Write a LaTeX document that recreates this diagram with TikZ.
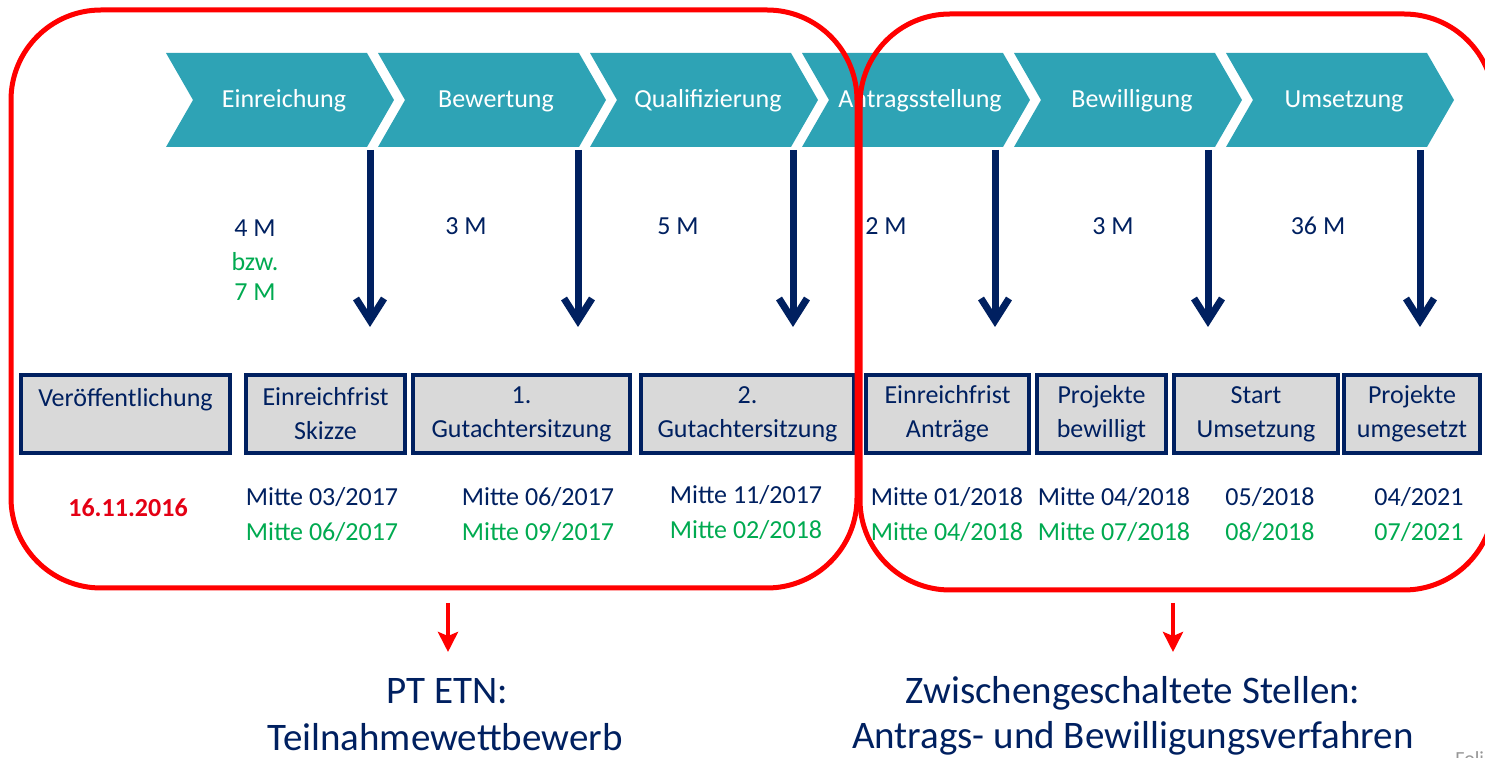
\documentclass[tikz,border=0pt]{standalone}
\usepackage{fontspec}
\setmainfont{Carlito}
\usetikzlibrary{arrows.meta}
\definecolor{tealc}{RGB}{46,163,181}
\definecolor{navy}{RGB}{0,32,96}
\definecolor{grn}{RGB}{0,170,80}
\definecolor{redr}{RGB}{255,0,0}
\definecolor{datered}{RGB}{228,0,20}
\definecolor{boxgray}{RGB}{217,217,217}
\definecolor{folgray}{RGB}{150,150,150}
\begin{document}
\begin{tikzpicture}[x=0.5pt,y=-0.5pt,
  chevtext/.style={text=white, font=\fontsize{13}{15}\selectfont, anchor=base, inner sep=0pt},
  stagebox/.style={draw=navy, line width=2pt, fill=boxgray, text=navy, align=center,
    font=\fontsize{13}{17}\selectfont, minimum height=39pt, inner sep=0pt},
  durtext/.style={text=navy, font=\fontsize{13}{15}\selectfont, anchor=base, inner sep=0pt},
  durgreen/.style={durtext, text=grn},
  datetext/.style={text=navy, font=\fontsize{13}{15}\selectfont, anchor=base, inner sep=0pt},
  dategreen/.style={datetext, text=grn},
  navyarrow/.style={draw=navy, line width=3.5pt, -{Straight Barb[length=11pt,width=14pt]}},
  redframe/.style={draw=redr, line width=2.5pt, rounded corners=45pt},
  redarrow/.style={draw=redr, line width=2.2pt, -{Stealth[length=10pt,width=10pt,inset=2pt]}},
  bottomtext/.style={text=navy, font=\fontsize{19.5}{25}\selectfont, anchor=base, inner sep=0pt}
]
\useasboundingbox (0,0) rectangle (1485,758);

% chevrons
\foreach \i/\t in {0/Einreichung,1/Bewertung,2/Qualifizierung,3/Antragsstellung,4/Bewilligung,5/Umsetzung}{
  \pgfmathsetmacro\xl{166+212*\i}
  \fill[tealc] (\xl,53) -- ++(201,0) -- ++(27,47) -- ++(-27,47) -- ++(-201,0) -- ++(27,-47) -- cycle;
  \node[chevtext] (chev\i) at (\xl+118,108) {\t};
}

% navy arrows
\foreach \i/\x in {1/370,2/578,3/793,4/995,5/1208,6/1420}{
  \coordinate (as\i) at (\x,150);
  \coordinate (ae\i) at (\x,327);
  \draw[navyarrow] (as\i) -- (ae\i);
}

% durations
\node[durtext] (m1) at (255,237) {4 M};
\node[durgreen] (m1b) at (255,271) {bzw.};
\node[durgreen] (m1c) at (255,301) {7 M};
\node[durtext] (m2) at (466,235) {3 M};
\node[durtext] (m3) at (678,235) {5 M};
\node[durtext] (m4) at (886,235) {2 M};
\node[durtext] (m5) at (1113,235) {3 M};
\node[durtext] (m6) at (1318,235) {36 M};

% boxes
\node[stagebox, minimum width=104.5pt] (b1) at (125.5,414) {Veröffentlichung\\\mbox{}};
\node[stagebox, minimum width=79.5pt] (b2) at (325.5,414) {Einreichfrist\\Skizze};
\node[stagebox, minimum width=108.5pt] (b3) at (521.5,414) {1.\\Gutachtersitzung};
\node[stagebox, minimum width=106.5pt] (b4) at (747.5,414) {2.\\Gutachtersitzung};
\node[stagebox, minimum width=81.5pt] (b5) at (947.5,414) {Einreichfrist\\Anträge};
\node[stagebox, minimum width=64.5pt] (b6) at (1101.5,414) {Projekte\\bewilligt};
\node[stagebox, minimum width=82pt] (b7) at (1256,414) {Start\\Umsetzung};
\node[stagebox, minimum width=68pt] (b8) at (1412,414) {Projekte\\umgesetzt};

% dates
\node[datetext, text=datered, font=\fontsize{13}{15}\selectfont\bfseries] (d0) at (128,517) {16.11.2016};
\node[datetext] (d1a) at (322,506) {Mitte 03/2017};
\node[dategreen] (d1b) at (322,541) {Mitte 06/2017};
\node[datetext] (d2a) at (538,506) {Mitte 06/2017};
\node[dategreen] (d2b) at (538,541) {Mitte 09/2017};
\node[datetext] (d3a) at (746,504) {Mitte 11/2017};
\node[dategreen] (d3b) at (746,539) {Mitte 02/2018};
\node[datetext] (d4a) at (947,506) {Mitte 01/2018};
\node[dategreen] (d4b) at (947,541) {Mitte 04/2018};
\node[datetext] (d5a) at (1114,506) {Mitte 04/2018};
\node[dategreen] (d5b) at (1114,541) {Mitte 07/2018};
\node[datetext] (d6a) at (1270,506) {05/2018};
\node[dategreen] (d6b) at (1270,541) {08/2018};
\node[datetext] (d7a) at (1419,506) {04/2021};
\node[dategreen] (d7b) at (1419,541) {07/2021};

% red frames
\draw[redframe] (11,10) rectangle (857,588);
\draw[redframe] (860,14) rectangle (1494,590);

% red arrows
\coordinate (ra1s) at (448,603);
\coordinate (ra1e) at (448,652);
\coordinate (ra2s) at (1173,603);
\coordinate (ra2e) at (1173,652);
\draw[redarrow] (ra1s) -- (ra1e);
\draw[redarrow] (ra2s) -- (ra2e);

% bottom texts
\node[bottomtext] (t1) at (447,704) {PT ETN:};
\node[bottomtext] (t2) at (445,751) {Teilnahmewettbewerb};
\node[bottomtext] (t3) at (1133,704) {Zwischengeschaltete Stellen:};
\node[bottomtext] (t4) at (1133,749) {Antrags- und Bewilligungsverfahren};
\node[anchor=base west, text=folgray, font=\fontsize{10}{12}\selectfont, inner sep=0pt] (fol) at (1455,766) {Folie};
\end{tikzpicture}
\end{document}
